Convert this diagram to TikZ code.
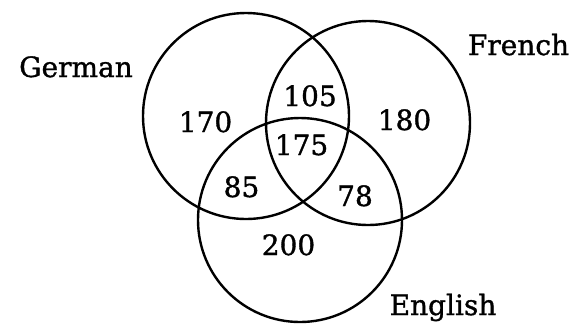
\documentclass[tikz,border=0pt]{standalone}
\usepackage{fontspec}
\setmainfont{DejaVu Serif}
\newfontfamily\heavyserif{DejaVu Serif}[FakeBold=1.2]
\begin{document}
\begin{tikzpicture}[x=1pt,y=-1pt,
  setcircle/.style={draw, line width=2.4pt, circle, inner sep=0pt, minimum size=#1},
  lbl/.style={anchor=base, inner sep=0pt, font=\heavyserif\fontsize{28}{30}\selectfont},
  num/.style={anchor=base, inner sep=0pt, font=\heavyserif\fontsize{28}{30}\selectfont}]
\useasboundingbox (0,0) rectangle (575,325);
\node[setcircle=206pt] (german) at (246,116) {};
\node[setcircle=204pt] (french) at (368,123) {};
\node[setcircle=204pt] (english) at (300,220) {};
\node[lbl] (lgerman) at (76,77) {German};
\node[lbl] (lfrench) at (518.5,55) {French};
\node[lbl] (lenglish) at (443,315) {English};
\node[num] (n170) at (205.5,132) {170};
\node[num] (n105) at (310,106) {105};
\node[num] (n180) at (404.5,130) {180};
\node[num] (n175) at (301.5,155) {175};
\node[num] (n85) at (241.5,197) {85};
\node[num] (n78) at (355,206) {78};
\node[num] (n200) at (288.5,255) {200};
\end{tikzpicture}
\end{document}
